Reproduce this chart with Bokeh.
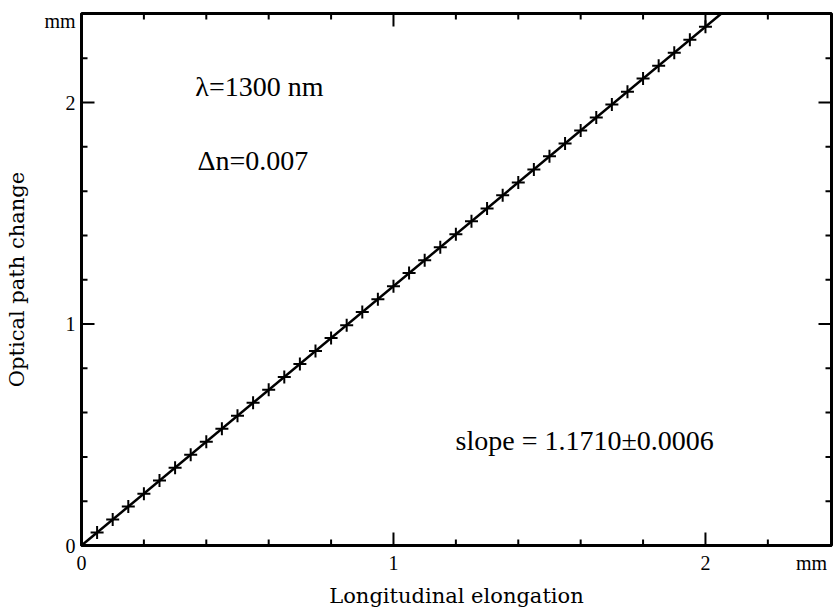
import math
from bokeh.plotting import figure
from bokeh.models import Range1d, FixedTicker, Label
from bokeh.embed import file_html
from bokeh.resources import INLINE

# ---- data ----
elongation = [0.05, 0.10, 0.15, 0.20, 0.25, 0.30, 0.35, 0.40, 0.45, 0.50,
              0.55, 0.60, 0.65, 0.70, 0.75, 0.80, 0.85, 0.90, 0.95, 1.00,
              1.05, 1.10, 1.15, 1.20, 1.25, 1.30, 1.35, 1.40, 1.45, 1.50,
              1.55, 1.60, 1.65, 1.70, 1.75, 1.80, 1.85, 1.90, 1.95, 2.00]
path_change = [0.059, 0.117, 0.176, 0.234, 0.293, 0.351, 0.410, 0.468, 0.527, 0.586,
               0.644, 0.703, 0.761, 0.820, 0.878, 0.937, 0.995, 1.054, 1.112, 1.171,
               1.230, 1.288, 1.347, 1.405, 1.464, 1.522, 1.581, 1.639, 1.698, 1.757,
               1.815, 1.874, 1.932, 1.991, 2.049, 2.108, 2.166, 2.225, 2.283, 2.342]
fit_slope = 1.1710
fit_x = [0.0, 2.2]
major_ticks = [0, 1, 2]
minor_ticks = [0.2, 0.4, 0.6, 0.8, 1.2, 1.4, 1.6, 1.8, 2.2]
tick_labels = {0: "0", 1: "1", 2: "2"}
x_unit_pos = 2.34      # where the "mm" unit sits along the x axis
y_unit_pos = 2.366     # where the "mm" unit sits along the y axis
unit = "mm"
x_title = "Longitudinal elongation"
y_title = "Optical path change"
note_lambda = "λ=1300 nm"
note_dn = "Δn=0.007"
note_slope = "slope = 1.1710±0.0006"

X_MAX = 2.404
Y_MAX = 2.402
SERIF = "Liberation Serif"
LABEL_FONT = "DejaVu Serif"

p = figure(width=835, height=610, output_backend="svg", toolbar_location=None,
           x_range=Range1d(0, X_MAX), y_range=Range1d(0, Y_MAX),
           min_border_left=81, min_border_right=4, min_border_top=13,
           min_border_bottom=65)
p.background_fill_color = "white"
p.border_fill_color = "white"
p.outline_line_color = "black"
p.outline_line_width = 3
p.xgrid.visible = False
p.ygrid.visible = False

for ax, upos in ((p.xaxis[0], x_unit_pos), (p.yaxis[0], y_unit_pos)):
    # axis draws only the labels (incl. the unit); tick marks are drawn below
    ax.ticker = FixedTicker(ticks=major_ticks + [upos], minor_ticks=[])
    overrides = dict(tick_labels)
    overrides[upos] = unit
    ax.major_label_overrides = overrides
    ax.axis_line_width = 3
    ax.axis_line_color = "black"
    ax.major_tick_in = 0
    ax.major_tick_out = 0
    ax.minor_tick_in = 0
    ax.minor_tick_out = 0
    ax.major_label_text_font = SERIF
    ax.major_label_text_font_size = "20px"
    ax.major_label_text_font_style = "normal"
    ax.major_label_text_color = "black"
    ax.major_label_standoff = 6
    ax.axis_label_text_font = LABEL_FONT
    ax.axis_label_text_font_size = "21px"
    ax.axis_label_text_font_style = "normal"
    ax.axis_label_text_color = "black"
p.xaxis[0].axis_label = x_title
p.yaxis[0].axis_label = y_title
p.xaxis[0].axis_label_standoff = 7
p.yaxis[0].axis_label_standoff = 12

# inward tick marks on all four sides
def ticks_on_sides(positions, length):
    n = len(positions)
    p.ray(x=positions, y=[0] * n, length=length, angle=math.pi / 2,
          length_units="screen", line_color="black", line_width=2)
    p.ray(x=positions, y=[Y_MAX] * n, length=length, angle=-math.pi / 2,
          length_units="screen", line_color="black", line_width=2)
    p.ray(x=[0] * n, y=positions, length=length, angle=0,
          length_units="screen", line_color="black", line_width=2)
    p.ray(x=[X_MAX] * n, y=positions, length=length, angle=math.pi,
          length_units="screen", line_color="black", line_width=2)

ticks_on_sides(major_ticks, 13)
ticks_on_sides(minor_ticks, 6)

# fit line
fit_y = [fit_slope * v for v in fit_x]
p.line(fit_x, fit_y, line_color="black", line_width=2.5)
# measured points
p.scatter(elongation, path_change, marker="cross", size=13,
          line_color="black", line_width=2)

# annotations
for txt, x, y in [(note_lambda, 0.365, 2.072), (note_dn, 0.372, 1.738),
                  (note_slope, 1.199, 0.474)]:
    p.add_layout(Label(x=x, y=y, text=txt, text_font=SERIF,
                       text_font_size="28px", text_baseline="middle",
                       text_align="left", text_color="black"))

open("out.html", "w").write(file_html(p, INLINE))
